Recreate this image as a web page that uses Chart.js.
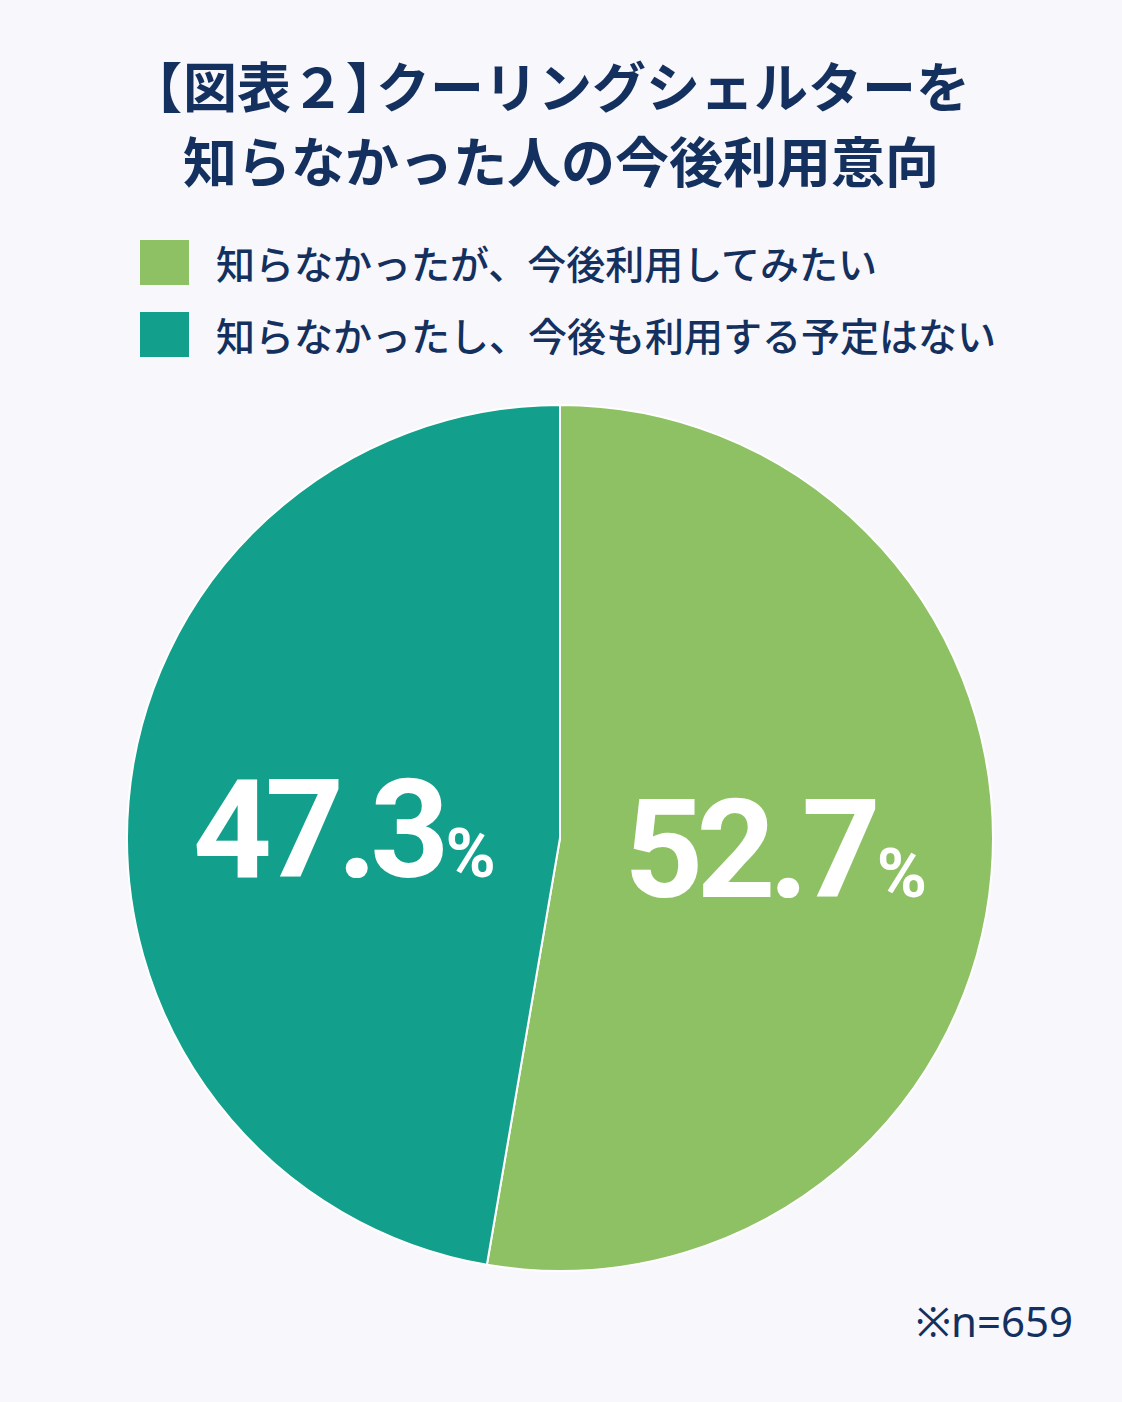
<!DOCTYPE html>
<html lang="ja">
<head>
<meta charset="utf-8">
<script src="https://cdn.jsdelivr.net/npm/chart.js@4.4.1/dist/chart.umd.min.js"></script>
<style>
  body { margin: 0; background: #f8f7fb; width: 1122px; height: 1402px; position: relative; overflow: hidden;
         font-family: "Noto Sans CJK JP", "Noto Sans", sans-serif; color: #14305e; }
  #title { position: absolute; left: 0; width: 1122px; top: 47px; text-align: center;
           font-size: 54px; font-weight: 700; line-height: 75px; }
  #title .br { font-feature-settings: "palt"; margin: 0 2px; }
  #legend { position: absolute; left: 140px; top: 236px; }
  .item { display: flex; align-items: center; height: 52px; margin-bottom: 20px; font-size: 39px; font-weight: 500; }
  .box { width: 49px; height: 45px; margin-right: 27px; }
  #wrap { position: absolute; left: 126px; top: 400px; width: 868px; height: 876px; }
  #note { position: absolute; right: 49px; top: 1292px; font-size: 42px; font-family: "Noto Sans", sans-serif; }
</style>
</head>
<body>
<div id="title"><span class="br">【</span>図表２<span class="br">】</span>クーリングシェルターを<br>知らなかった人の今後利用意向</div>
<div id="legend"></div>
<div id="wrap"><canvas id="myChart"></canvas></div>
<div id="note">※n=659</div>
<script>
// 回答の区分と割合(%)
const labels = [
    '知らなかったが、今後利用してみたい',
    '知らなかったし、今後も利用する予定はない'
];
const shares = [52.7, 47.3];
const colors = ['#8dc163', '#12a08c'];

// 凡例
labels.forEach((txt, i) => {
    const row = document.createElement('div');
    row.className = 'item';
    row.innerHTML = '<span class="box" style="background:' + colors[i] + '"></span>' + txt;
    document.getElementById('legend').appendChild(row);
});

// 扇形の中に「52.7%」のような値を書く
const pctLabels = {
    id: 'pctLabels',
    afterDatasetsDraw(chart) {
        const ctx = chart.ctx;
        const meta = chart.getDatasetMeta(0);
        const cy = (chart.chartArea.top + chart.chartArea.bottom) / 2;
        meta.data.forEach((arc, i) => {
            const p = arc.tooltipPosition();
            const base = cy + (p.y - cy) * 0.55 + 49;
            const num = shares[i].toFixed(1);
            ctx.save();
            ctx.fillStyle = '#ffffff';
            ctx.textBaseline = 'alphabetic';
            ctx.textAlign = 'left';
            ctx.font = 'bold 138px Roboto';
            ctx.letterSpacing = '-7px';
            const w1 = ctx.measureText(num).width;
            ctx.font = 'bold 68px Roboto';
            ctx.letterSpacing = '0px';
            const w2 = ctx.measureText('%').width;
            const gap = 3;
            const x0 = p.x - (w1 + gap + w2) / 2;
            ctx.font = 'bold 138px Roboto';
            ctx.letterSpacing = '-7px';
            ctx.fillText(num, x0, base);
            ctx.font = 'bold 68px Roboto';
            ctx.letterSpacing = '0px';
            ctx.fillText('%', x0 + w1 + gap, base);
            ctx.restore();
        });
    }
};

const myChart = new Chart(document.getElementById('myChart'), {
    type: 'pie',
    data: {
        labels: labels,
        datasets: [{
            data: shares,
            backgroundColor: colors,
            borderColor: '#ffffff',
            borderWidth: 2
        }]
    },
    options: {
        responsive: true,
        maintainAspectRatio: false,
        animation: false,
        plugins: {
            legend: { display: false },
            tooltip: { enabled: false }
        }
    },
    plugins: [pctLabels]
});
</script>
</body>
</html>
